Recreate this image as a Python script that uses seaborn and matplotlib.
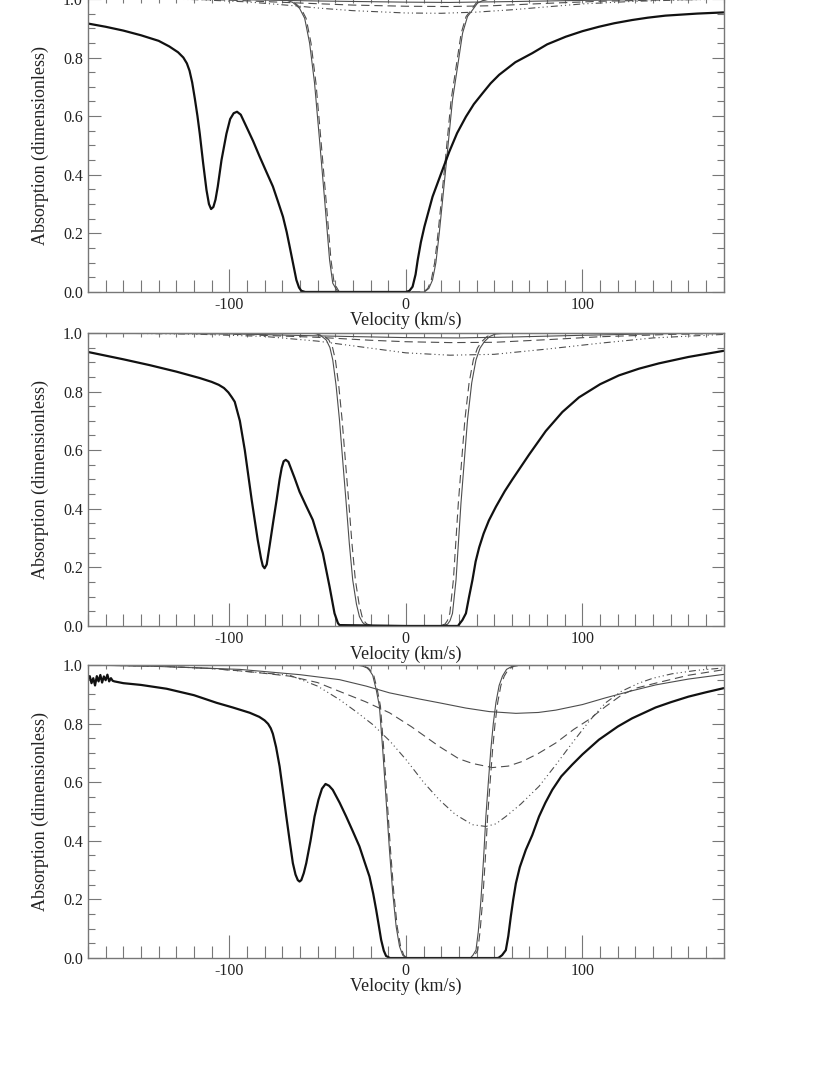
# Absorption profiles vs velocity, three panels

import matplotlib
matplotlib.use("Agg")
import numpy as np
import seaborn as sns
import matplotlib.pyplot as plt
from matplotlib.ticker import MultipleLocator, FormatStrFormatter

# ---------------- data ----------------
# panel 1
p1_black_v = [-180, -170, -160, -150, -140, -134, -129, -126, -124, -122.5, -121, -119.5, -118, -116.7, -114.8,
              -112.9, -111.5, -110.3, -109, -107.8, -106.5, -104.4, -101.6, -99.5, -97.5, -95.6, -93.5, -90.3,
              -86.5, -82.8, -79, -75.3, -72.5, -69.6, -67.5, -65.8, -63.8, -62, -60.5, -59.2, -57, -30, 0, 2,
              3.8, 5.5, 6.7, 8.5, 10.5, 15.1, 20, 24.6, 29, 34, 38.5, 43.4, 48, 52.8, 62, 71.6, 80, 90.5, 100,
              109.3, 118, 128.1, 137, 147, 165, 180]
p1_black_a = [0.916, 0.905, 0.892, 0.876, 0.857, 0.838, 0.818, 0.8, 0.78, 0.755, 0.715, 0.66, 0.6, 0.54, 0.44,
              0.348, 0.3, 0.283, 0.29, 0.315, 0.36, 0.45, 0.54, 0.59, 0.61, 0.615, 0.605, 0.564, 0.515, 0.462,
              0.41, 0.36, 0.31, 0.257, 0.205, 0.155, 0.095, 0.041, 0.015, 0.004, 0.0, 0.0, 0.0, 0.004, 0.018,
              0.06, 0.109, 0.17, 0.223, 0.325, 0.405, 0.479, 0.542, 0.598, 0.641, 0.678, 0.712, 0.741, 0.784,
              0.815, 0.845, 0.871, 0.89, 0.905, 0.917, 0.928, 0.936, 0.943, 0.95, 0.954]
p1_steep_v = [-180, -90, -72, -67.7, -64, -60.2, -57.3, -54.5, -51.7, -48.9, -46, -43.2, -41.4, -38.5, -30,
              8, 10.5, 13, 15.1, 17, 18.9, 22.7, 26.4, 29.3, 32.1, 34.9, 37.7, 40.6, 43.4, 47, 60, 180]
p1_steep_a = [1.0, 1.0, 0.999, 0.996, 0.988, 0.968, 0.934, 0.849, 0.712, 0.519, 0.314, 0.109, 0.03, 0.0, 0.0,
              0.0, 0.0, 0.012, 0.041, 0.1, 0.2, 0.428, 0.655, 0.77, 0.883, 0.94, 0.962, 0.986, 0.994, 0.999, 1.0, 1.0]
p1_steepd_v = [-180, -90, -72, -67, -63.2, -59.4, -56.5, -53.7, -50.9, -48.1, -45.2, -42.4, -40.6, -37.7, -30,
               8, 10, 12.4, 14.4, 16.3, 18.2, 22, 25.6, 28.5, 31.3, 34.1, 36.9, 39.8, 42.6, 46.2, 60, 180]
p1_steepd_a = p1_steep_a
p1_sol_v = [-180, -100, -50, 0, 25, 60, 100, 140, 180]
p1_sol_a = [1.0, 0.998, 0.993, 0.989, 0.988, 0.991, 0.995, 0.998, 1.0]
p1_dash_v = [-180, -130, -100, -60, -30, 0, 25, 50, 80, 110, 150, 180]
p1_dash_a = [1.0, 0.999, 0.996, 0.986, 0.979, 0.975, 0.974, 0.977, 0.985, 0.992, 0.997, 0.999]
p1_ddd_v = [-180, -120, -90, -60, -48, -30, 0, 20, 40, 60, 80, 100, 130, 160, 180]
p1_ddd_a = [1.0, 0.998, 0.99, 0.975, 0.968, 0.96, 0.952, 0.951, 0.955, 0.963, 0.973, 0.983, 0.992, 0.997, 0.999]

# panel 2
p2_black_v = [-180, -160, -145, -130, -116.7, -110, -106, -103, -100.5, -98.5, -96.9, -94, -91.2, -87.3, -83.9,
              -82, -81, -80, -78.8, -77.1, -75, -73.2, -71.5, -70.3, -69.2, -68, -66.5, -63, -60.2, -56.5,
              -52.7, -47, -43.2, -40.4, -38.5, -37.6, 0, 29.5, 30.2, 32, 34, 35.8, 37.7, 39.5, 41.5, 44, 47,
              51, 56, 60.3, 69.8, 79.2, 88.6, 98, 110, 120.6, 132, 143.2, 160, 180]
p2_black_a = [0.935, 0.91, 0.89, 0.868, 0.846, 0.833, 0.823, 0.812, 0.797, 0.78, 0.765, 0.7, 0.6, 0.43, 0.294,
              0.23, 0.205, 0.197, 0.21, 0.276, 0.36, 0.43, 0.5, 0.54, 0.562, 0.567, 0.56, 0.505, 0.458, 0.41,
              0.362, 0.248, 0.134, 0.043, 0.01, 0.003, 0.0, 0.0, 0.006, 0.02, 0.043, 0.1, 0.157, 0.22, 0.268,
              0.315, 0.36, 0.407, 0.46, 0.5, 0.585, 0.665, 0.73, 0.78, 0.825, 0.855, 0.878, 0.896, 0.918, 0.939]
p2_steep_v = [-180, -70, -55, -52, -50.7, -48, -45.1, -43, -41.4, -39.5, -37.6, -35.7, -33.8, -32, -30.1, -28,
              -26.3, -24.5, -23.4, -20, 20, 23.6, 25, 26.4, 28.4, 31.2, 34.9, 37.3, 39.7, 42, 44.4, 47.5,
              51, 60, 180]
p2_steep_a = [1.0, 1.0, 0.999, 0.998, 0.997, 0.99, 0.976, 0.95, 0.908, 0.82, 0.703, 0.56, 0.419, 0.28, 0.157,
              0.075, 0.032, 0.012, 0.006, 0.0, 0.0, 0.006, 0.018, 0.043, 0.157, 0.419, 0.703, 0.83, 0.908,
              0.948, 0.97, 0.988, 0.997, 1.0, 1.0]
p2_steepd_v = [-180, -70, -54, -50.5, -49.2, -46.5, -43.6, -41.5, -39.9, -38, -36.1, -34.2, -32.3, -30.5,
               -28.6, -26.5, -24.8, -23, -21.9, -18, 18, 22.1, 23.5, 24.9, 26.9, 29.7, 33.4, 35.8, 38.2,
               40.5, 42.9, 46, 49.5, 60, 180]
p2_steepd_a = p2_steep_a
p2_sol_v = [-180, -100, -50, 0, 30, 60, 100, 140, 180]
p2_sol_a = [1.0, 0.997, 0.99, 0.984, 0.983, 0.986, 0.992, 0.997, 1.0]
p2_dash_v = [-180, -105, -50, -20, 0, 25, 50, 80, 110, 150, 180]
p2_dash_a = [1.0, 0.997, 0.985, 0.975, 0.97, 0.967, 0.968, 0.977, 0.987, 0.995, 0.998]
p2_ddd_v = [-180, -120, -80, -50, -20, 0, 25, 50, 80, 110, 140, 180]
p2_ddd_a = [1.0, 0.996, 0.988, 0.972, 0.948, 0.932, 0.924, 0.927, 0.945, 0.965, 0.983, 0.995]

# panel 3 (left end of the black profile is noisy)
p3_black_v = [-180, -179, -178, -177, -176, -175, -174, -173, -172, -171, -170, -169, -168, -167, -166, -165,
              -160, -150, -135.5, -120, -107.2, -98, -88.4, -83, -80, -78, -76.5, -75.3, -73.5, -71.5, -69.5,
              -67.7, -65.8, -64, -62.5, -61.2, -60.2, -59.2, -57.8, -56.4, -54, -51.7, -49.5, -47.5, -45.5,
              -43.5, -41.4, -37.5, -33.8, -30, -26.3, -23.5, -20.6, -18.5, -16.8, -15.3, -14, -12.5, -11.2,
              -9, 0, 52, 52.8, 54.5, 56.6, 58, 59.4, 60.8, 62.3, 64.5, 67.9, 71.6, 75.4, 79, 82.9, 88, 94.2,
              100, 109.3, 120, 128.1, 141.4, 150, 160, 170, 180]
p3_black_a = [0.95, 0.962, 0.938, 0.955, 0.93, 0.962, 0.944, 0.966, 0.94, 0.961, 0.948, 0.967, 0.944, 0.955,
              0.946, 0.944, 0.938, 0.932, 0.919, 0.897, 0.871, 0.855, 0.837, 0.823, 0.811, 0.799, 0.784, 0.765,
              0.72, 0.654, 0.566, 0.483, 0.4, 0.324, 0.285, 0.266, 0.261, 0.266, 0.29, 0.324, 0.4, 0.483, 0.54,
              0.578, 0.594, 0.588, 0.574, 0.53, 0.483, 0.432, 0.381, 0.33, 0.278, 0.22, 0.164, 0.11, 0.062,
              0.025, 0.007, 0.0, 0.0, 0.0, 0.002, 0.01, 0.027, 0.075, 0.141, 0.2, 0.255, 0.31, 0.369, 0.42,
              0.483, 0.53, 0.574, 0.62, 0.66, 0.695, 0.745, 0.79, 0.818, 0.855, 0.873, 0.892, 0.907, 0.921]
p3_steep_v = [-180, -30, -26, -24.4, -22, -20.6, -18.8, -16.8, -15, -13.1, -11.2, -9.3, -7.4, -5.5, -3.6, -1.8,
              0, 36, 36.8, 38, 39.7, 41, 42.5, 44, 45.3, 46.7, 48.1, 49.5, 51, 52.8, 54.7, 57, 60.3, 65, 180]
p3_steep_a = [1.0, 1.0, 0.998, 0.996, 0.99, 0.982, 0.965, 0.916, 0.86, 0.711, 0.54, 0.369, 0.22, 0.107, 0.04,
              0.01, 0.0, 0.0, 0.002, 0.01, 0.027, 0.09, 0.198, 0.34, 0.483, 0.6, 0.711, 0.8, 0.872, 0.93,
              0.962, 0.985, 0.996, 1.0, 1.0]
p3_steepd_v = [-180, -30, -25.5, -23.8, -21.4, -20, -18.2, -16.2, -14.4, -12.5, -10.6, -8.7, -6.8, -4.9, -3,
               -1.2, 0.6, 37, 37.8, 39, 40.7, 42, 43.5, 45, 46.3, 47.7, 49.1, 50.5, 52, 53.8, 55.7, 58,
               61.3, 66, 180]
p3_steepd_a = p3_steep_a
p3_sol_v = [-180, -140, -94, -60, -37.6, -22.5, -9.3, 7.6, 18.9, 34, 47.2, 62.3, 75, 84.9, 100, 113.1, 128,
            141.4, 160, 180]
p3_sol_a = [1.0, 0.995, 0.985, 0.967, 0.95, 0.928, 0.905, 0.884, 0.871, 0.853, 0.841, 0.835, 0.838, 0.846,
            0.865, 0.888, 0.912, 0.932, 0.952, 0.968]
p3_dash_v = [-180, -140, -110, -90, -65.8, -50, -37.6, -23, -9.3, 3, 18.9, 30, 37.7, 49, 58, 66, 75, 84.9,
             95, 103.7, 113, 122.5, 131, 141.4, 160, 180]
p3_dash_a = [1.0, 0.996, 0.988, 0.978, 0.962, 0.94, 0.91, 0.875, 0.837, 0.79, 0.722, 0.68, 0.664, 0.65,
             0.655, 0.671, 0.698, 0.734, 0.78, 0.814, 0.858, 0.899, 0.922, 0.938, 0.965, 0.984]
p3_ddd_v = [-180, -140, -110, -85, -65.8, -50, -37.6, -28, -18.8, -9, 0.1, 10, 18.9, 28, 37.7, 45.3, 51,
            56.6, 65, 75.4, 85, 94.2, 104, 113.1, 122, 131.9, 140, 150.7, 165, 180]
p3_ddd_a = [1.0, 0.996, 0.988, 0.975, 0.965, 0.928, 0.882, 0.84, 0.797, 0.74, 0.677, 0.6, 0.54, 0.49, 0.455,
            0.449, 0.458, 0.483, 0.525, 0.586, 0.66, 0.734, 0.81, 0.871, 0.91, 0.938, 0.955, 0.97, 0.982, 0.99]

# ---------------- plotting ----------------
sns.set_style("ticks")
plt.rcParams['font.family'] = ['Liberation Serif', 'DejaVu Serif']
plt.rcParams['axes.unicode_minus'] = False
plt.rcParams['lines.scale_dashes'] = False

GRAY = '#777777'
THIN = '#4d4d4d'
DASH = (0, (6, 3.5))
DDDD = (0, (5, 2.2, 0.8, 2.2, 0.8, 2.2, 0.8, 2.2))

panels = [
    (p1_black_v, p1_black_a, p1_steep_v, p1_steep_a, p1_steepd_v, p1_steepd_a,
     p1_sol_v, p1_sol_a, p1_dash_v, p1_dash_a, p1_ddd_v, p1_ddd_a),
    (p2_black_v, p2_black_a, p2_steep_v, p2_steep_a, p2_steepd_v, p2_steepd_a,
     p2_sol_v, p2_sol_a, p2_dash_v, p2_dash_a, p2_ddd_v, p2_ddd_a),
    (p3_black_v, p3_black_a, p3_steep_v, p3_steep_a, p3_steepd_v, p3_steepd_a,
     p3_sol_v, p3_sol_a, p3_dash_v, p3_dash_a, p3_ddd_v, p3_ddd_a),
]
bottoms = [0.7284, 0.4177, 0.1088]

fig = plt.figure(figsize=(8.3, 10.75), dpi=100)

for b, (bv, ba, sv, sa, dv, da, ov, oa, hv, ha, tv, ta) in zip(bottoms, panels):
    ax = fig.add_axes([0.106, b, 0.766, 0.2726])

    # thin gray model curves
    sns.lineplot(x=ov, y=oa, ax=ax, color=THIN, lw=0.8, estimator=None, sort=False)
    sns.lineplot(x=hv, y=ha, ax=ax, color=THIN, lw=0.8, linestyle=DASH, estimator=None, sort=False)
    sns.lineplot(x=tv, y=ta, ax=ax, color=THIN, lw=0.8, linestyle=DDDD, estimator=None, sort=False)
    sns.lineplot(x=sv, y=sa, ax=ax, color=THIN, lw=0.8, estimator=None, sort=False)
    sns.lineplot(x=dv, y=da, ax=ax, color=THIN, lw=0.8, linestyle=DASH, estimator=None, sort=False)
    # observed profile
    sns.lineplot(x=bv, y=ba, ax=ax, color='#111111', lw=1.6, estimator=None, sort=False)

    ax.set_xlim(-180, 180)
    ax.set_ylim(0, 1)
    ax.xaxis.set_major_locator(MultipleLocator(100))
    ax.xaxis.set_minor_locator(MultipleLocator(10))
    ax.yaxis.set_major_locator(MultipleLocator(0.2))
    ax.yaxis.set_minor_locator(MultipleLocator(0.05))
    ax.yaxis.set_major_formatter(FormatStrFormatter('%.1f'))

    ax.tick_params(axis='x', which='major', direction='in', length=16.5, width=0.8, color=GRAY,
                   pad=3.5, labelsize=11.5, labelcolor='#222222')
    ax.tick_params(axis='x', which='minor', direction='in', length=8.6, width=0.8, color=GRAY)
    ax.tick_params(axis='y', which='major', direction='in', length=9, width=0.8, color=GRAY,
                   left=True, right=True, pad=3.6, labelsize=11.5, labelcolor='#222222')
    ax.tick_params(axis='y', which='minor', direction='in', length=5.2, width=0.8, color=GRAY,
                   left=True, right=True)

    top = ax.secondary_xaxis('top')
    top.xaxis.set_major_locator(MultipleLocator(100))
    top.xaxis.set_minor_locator(MultipleLocator(10))
    top.tick_params(which='both', direction='in', length=3, width=0.8, color=GRAY,
                    labeltop=False, labelbottom=False)
    top.spines['top'].set_color(GRAY)

    for s in ax.spines.values():
        s.set_color(GRAY)
        s.set_linewidth(1.0)

    ax.set_xlabel('Velocity (km/s)', fontsize=13, labelpad=-1, color='#222222')
    ax.set_ylabel('Absorption (dimensionless)', fontsize=13, labelpad=10, color='#222222')

fig.savefig('out.png', dpi=100)
